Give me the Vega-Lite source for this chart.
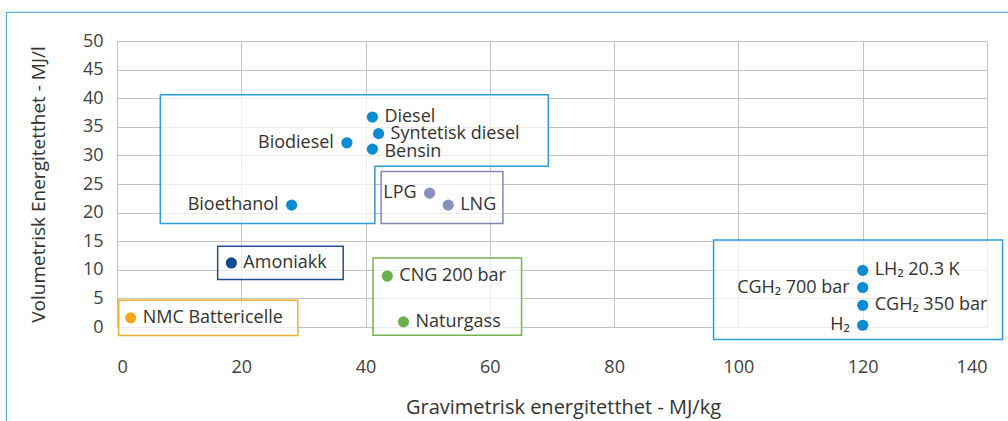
{
  "$schema": "https://vega.github.io/schema/vega-lite/v6.json",
  "width": 870,
  "height": 286,
  "autosize": {"type": "none"},
  "padding": {"left": 117, "top": 41, "right": 21, "bottom": 94},
  "background": "white",
  "config": {
    "font": "Open Sans",
    "view": {"stroke": null},
    "axis": {
      "grid": true,
      "gridColor": "#c2c2c2",
      "domain": false,
      "ticks": false,
      "labelFontSize": 18,
      "labelColor": "#404040",
      "titleFontSize": 19,
      "titleFontWeight": "normal",
      "titleColor": "#333333"
    }
  },
  "datasets": {
    "points": [
      {"label": "Diesel", "x": 41.1, "y": 36.7, "group": "Flytende"},
      {"label": "Syntetisk diesel", "x": 42.1, "y": 33.8, "group": "Flytende"},
      {"label": "Biodiesel", "x": 37.0, "y": 32.2, "group": "Flytende"},
      {"label": "Bensin", "x": 41.1, "y": 31.1, "group": "Flytende"},
      {"label": "Bioethanol", "x": 28.1, "y": 21.3, "group": "Flytende"},
      {"label": "LPG", "x": 50.3, "y": 23.4, "group": "LPG/LNG"},
      {"label": "LNG", "x": 53.3, "y": 21.3, "group": "LPG/LNG"},
      {"label": "CNG 200 bar", "x": 43.5, "y": 8.9, "group": "CNG"},
      {"label": "Naturgass", "x": 46.1, "y": 0.9, "group": "CNG"},
      {"label": "Amoniakk", "x": 18.4, "y": 11.2, "group": "Ammoniakk"},
      {"label": "NMC Battericelle", "x": 2.2, "y": 1.6, "group": "Batteri"},
      {"label": "LH₂ 20.3 K", "x": 120, "y": 9.9, "group": "Hydrogen"},
      {"label": "CGH₂  700 bar", "x": 120, "y": 6.9, "group": "Hydrogen"},
      {"label": "CGH₂  350 bar", "x": 120, "y": 3.8, "group": "Hydrogen"},
      {"label": "H₂", "x": 120, "y": 0.3, "group": "Hydrogen"}
    ],
    "boxes": [
      {"group": "LPG/LNG", "x": 42.5, "x2": 62.1, "y": 27.2, "y2": 18.1},
      {"group": "CNG", "x": 41.2, "x2": 65.1, "y": 12.06, "y2": -1.45},
      {"group": "Ammoniakk", "x": 16.2, "x2": 36.4, "y": 14.1, "y2": 8.3},
      {"group": "Batteri", "x": 0.26, "x2": 29.1, "y": 4.67, "y2": -1.5},
      {"group": "Hydrogen", "x": 96.0, "x2": 142.5, "y": 15.2, "y2": -2.2}
    ],
    "lfill": [
      {"x": 6.97, "x2": 69.4, "y": 40.6, "y2": 28.1},
      {"x": 6.97, "x2": 41.5, "y": 28.1, "y2": 18.1}
    ],
    "loutline": [
      {"i": 0, "x": 6.97, "y": 40.6},
      {"i": 1, "x": 69.4, "y": 40.6},
      {"i": 2, "x": 69.4, "y": 28.1},
      {"i": 3, "x": 41.5, "y": 28.1},
      {"i": 4, "x": 41.5, "y": 18.1},
      {"i": 5, "x": 6.97, "y": 18.1},
      {"i": 6, "x": 6.97, "y": 40.6}
    ],
    "frame": [
      {"x": -17.8, "x2": 165, "y": 55.0, "y2": -25}
    ]
  },
  "encoding": {
    "x": {
      "field": "x", "type": "quantitative",
      "scale": {"domain": [0, 140], "nice": false, "zero": false},
      "axis": {"values": [0, 20, 40, 60, 80, 100, 120, 140], "title": "Gravimetrisk energitetthet - MJ/kg", "labelPadding": 31, "titlePadding": 21, "titleX": 446, "titleFontSize": 20}
    },
    "y": {
      "field": "y", "type": "quantitative",
      "scale": {"domain": [0, 50], "nice": false, "zero": false},
      "axis": {"values": [0, 5, 10, 15, 20, 25, 30, 35, 40, 45, 50], "title": "Volumetrisk Energitetthet - MJ/l", "labelPadding": 14, "titlePadding": 34}
    }
  },
  "layer": [
    {
      "data": {"name": "frame"},
      "mark": {"type": "rect", "fill": null, "stroke": "#5db0e4", "strokeWidth": 1.2},
      "encoding": {"x2": {"field": "x2"}, "y2": {"field": "y2"}}
    },
    {
      "data": {"name": "lfill"},
      "mark": {"type": "rect", "fill": "white", "fillOpacity": 0.7, "strokeWidth": 0},
      "encoding": {"x2": {"field": "x2"}, "y2": {"field": "y2"}}
    },
    {
      "data": {"name": "loutline"},
      "mark": {"type": "line", "stroke": "#2a9edb", "strokeWidth": 1.5, "interpolate": "linear"},
      "encoding": {"order": {"field": "i", "type": "quantitative"}}
    },
    {
      "data": {"name": "boxes"},
      "mark": {"type": "rect", "fill": "white", "fillOpacity": 0.7, "strokeWidth": 1.5},
      "encoding": {
        "x2": {"field": "x2"}, "y2": {"field": "y2"},
        "stroke": {"field": "group", "type": "nominal", "legend": null,
          "scale": {"domain": ["Flytende", "LPG/LNG", "CNG", "Ammoniakk", "Batteri", "Hydrogen"],
                    "range": ["#2a9edb", "#7f87b8", "#74b44f", "#1f4f92", "#f3ae33", "#2a9edb"]}}
      }
    },
    {
      "data": {"name": "points"},
      "mark": {"type": "circle", "size": 125, "opacity": 1},
      "encoding": {
        "color": {"field": "group", "type": "nominal", "legend": null,
          "scale": {"domain": ["Flytende", "LPG/LNG", "CNG", "Ammoniakk", "Batteri", "Hydrogen"],
                    "range": ["#0a8cd4", "#8890c0", "#6ab04c", "#0d4a8e", "#f2a81d", "#0a8cd4"]}}
      }
    },
    {
      "data": {"name": "points"},
      "transform": [{"filter": {"field": "label", "oneOf": ["Biodiesel", "Bioethanol", "LPG", "CGH₂  700 bar", "H₂"]}}],
      "mark": {"type": "text", "align": "right", "baseline": "middle", "dx": -13, "fontSize": 18, "color": "#333333"},
      "encoding": {"text": {"field": "label"}}
    },
    {
      "data": {"name": "points"},
      "transform": [{"filter": {"not": {"field": "label", "oneOf": ["Biodiesel", "Bioethanol", "LPG", "CGH₂  700 bar", "H₂", "Bensin"]}}}],
      "mark": {"type": "text", "align": "left", "baseline": "middle", "dx": 12, "fontSize": 18, "color": "#333333"},
      "encoding": {"text": {"field": "label"}}
    },
    {
      "data": {"name": "points"},
      "transform": [{"filter": {"field": "label", "equal": "Bensin"}}],
      "mark": {"type": "text", "align": "left", "baseline": "middle", "dx": 12, "dy": 3, "fontSize": 18, "color": "#333333"},
      "encoding": {"text": {"field": "label"}}
    }
  ],
  "resolve": {"scale": {"color": "independent", "stroke": "independent"}}
}
